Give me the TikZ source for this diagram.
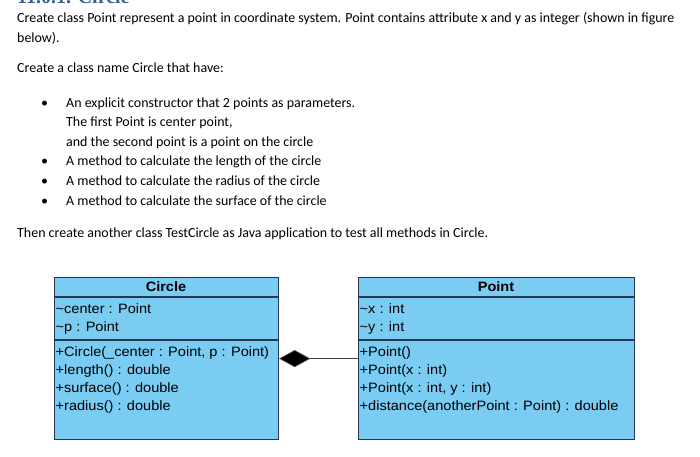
\documentclass[tikz,border=0pt]{standalone}
\usepackage{fontspec}
\setmainfont{Carlito}
\newfontfamily\umlfont[FakeStretch=1.07]{Liberation Sans}
\newfontfamily\headfont{Liberation Serif}
\usetikzlibrary{arrows.meta}
\definecolor{umlfill}{RGB}{122,204,242}
\definecolor{umlline}{RGB}{40,55,80}
\definecolor{headblue}{RGB}{54,95,145}
\begin{document}
\begin{tikzpicture}[x=1pt,y=-1pt,
  body/.style={anchor=base west, inner sep=0pt, font=\fontsize{13.95}{16}\selectfont},
  uml/.style={anchor=base west, inner sep=0pt, font=\umlfont\fontsize{13.6}{15}\selectfont},
  umltitle/.style={anchor=base, inner sep=0pt, font=\umlfont\bfseries\fontsize{13.6}{15}\selectfont},
  classbox/.style={draw=umlline, fill=umlfill, line width=1.2pt, inner sep=0pt, anchor=north west},
  sep/.style={draw=umlline, line width=1.2pt},
  assoc/.style={draw=black!75, line width=0.7pt}]
\useasboundingbox (0,0) rectangle (700,456);
\fill[white] (0,0) rectangle (700,456);
% cut-off heading
\begin{scope}
\clip (0,0) rectangle (700,456);
\node[anchor=base west, inner sep=0pt, font=\headfont\bfseries\fontsize{20}{22}\selectfont, text=headblue] (heading) at (17,3.5) {11.0.1. Circle};
\end{scope}
% body text
\node[body] (t1) at (17,22) {Create class Point represent a point in coordinate system. Point contains attribute x and y as integer (shown in figure};
\node[body] (t2) at (17,42) {below).};
\node[body] (t3) at (17,72.5) {Create a class name Circle that have:};
\node[body] (b1) at (41,107.3) {•};
\node[body] (l1) at (66,107.3) {An explicit constructor that 2 points as parameters.};
\node[body] (l2) at (66,126.8) {The first Point is center point,};
\node[body] (l3) at (66,146.3) {and the second point is a point on the circle};
\node[body] (b2) at (41,165.8) {•};
\node[body] (l4) at (66,165.8) {A method to calculate the length of the circle};
\node[body] (b3) at (41,185.4) {•};
\node[body] (l5) at (66,185.4) {A method to calculate the radius of the circle};
\node[body] (b4) at (41,205.2) {•};
\node[body] (l6) at (66,205.2) {A method to calculate the surface of the circle};
\node[body] (t4) at (17,237.5) {Then create another class TestCircle as Java application to test all methods in Circle.};
% Circle class
\node[classbox, minimum width=224pt, minimum height=162pt] (circlebox) at (54,277) {};
\draw[sep] ([yshift=-20pt]circlebox.north west) -- ([yshift=-20pt]circlebox.north east);
\draw[sep] ([yshift=-63pt]circlebox.north west) -- ([yshift=-63pt]circlebox.north east);
\node[umltitle] (ctitle) at (166,291.7) {Circle};
\node[uml] (ca1) at (55.5,313) {\textasciitilde center : Point};
\node[uml] (ca2) at (55.5,331.5) {\textasciitilde p : Point};
\node[uml] (cm1) at (55.5,356) {+Circle(\_center : Point, p : Point)};
\node[uml] (cm2) at (55.5,374.3) {+length() : double};
\node[uml] (cm3) at (55.5,392.6) {+surface() : double};
\node[uml] (cm4) at (55.5,410.9) {+radius() : double};
% Point class
\node[classbox, minimum width=276pt, minimum height=162pt] (pointbox) at (358,277) {};
\draw[sep] ([yshift=-20pt]pointbox.north west) -- ([yshift=-20pt]pointbox.north east);
\draw[sep] ([yshift=-63pt]pointbox.north west) -- ([yshift=-63pt]pointbox.north east);
\node[umltitle] (ptitle) at (496,291.7) {Point};
\node[uml] (pa1) at (359.5,313) {\textasciitilde x : int};
\node[uml] (pa2) at (359.5,331.5) {\textasciitilde y : int};
\node[uml] (pm1) at (359.5,356) {+Point()};
\node[uml] (pm2) at (359.5,374.3) {+Point(x : int)};
\node[uml] (pm3) at (359.5,392.6) {+Point(x : int, y : int)};
\node[uml] (pm4) at (359.5,410.9) {+distance(anotherPoint : Point) : double};
% composition
\draw[assoc, {Diamond[length=31pt,width=17pt,fill=black]}-] (circlebox.east) -- (pointbox.west);
\end{tikzpicture}
\end{document}
